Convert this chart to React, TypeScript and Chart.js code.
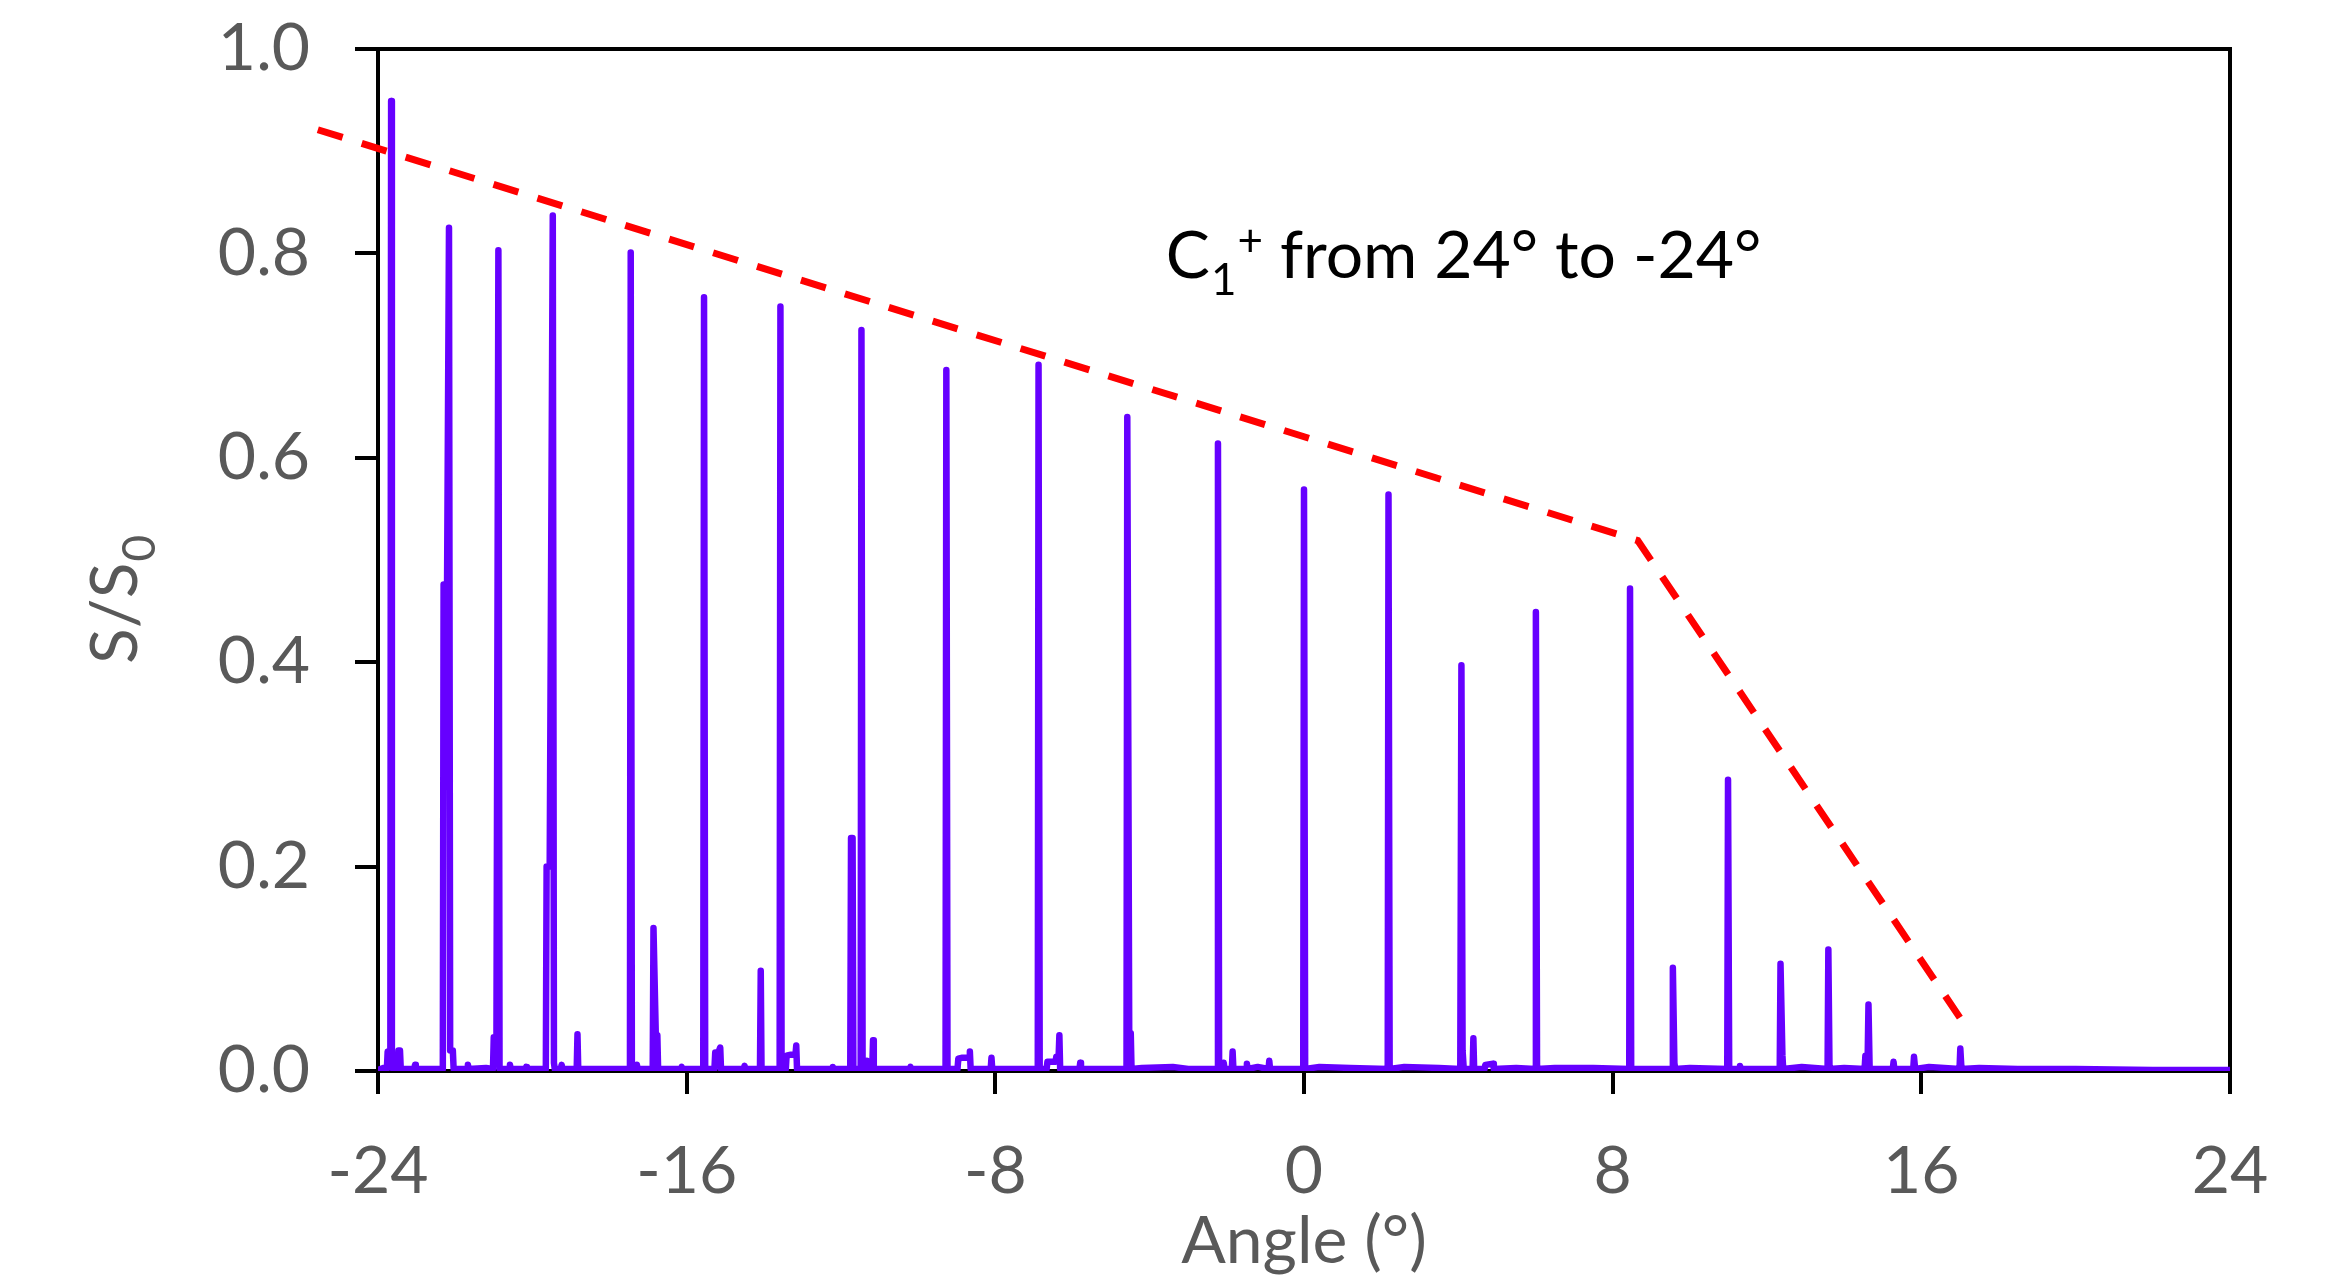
import { useEffect, useRef } from "react";
import { Chart, registerables } from "chart.js";

Chart.register(...registerables);

// Measured signal trace: [angle (°), S/S0]
const spectrum: [number, number][] = [
  [-24.0, 0.001], [-23.85, 0.003], [-23.8, 0.001],
  [-23.77, 0.002], [-23.75, 0.019], [-23.68, 0.02], [-23.66, 0.949], [-23.64, 0.003],
  [-23.49, 0.002], [-23.47, 0.02], [-23.43, 0.02], [-23.41, 0.002],
  [-23.2, 0.002], [-23.06, 0.002], [-23.04, 0.006], [-23.02, 0.002], [-22.6, 0.002],
  [-22.32, 0.002], [-22.3, 0.476], [-22.21, 0.476], [-22.16, 0.825], [-22.13, 0.02], [-22.06, 0.02], [-22.04, 0.002],
  [-21.85, 0.002], [-21.69, 0.002], [-21.67, 0.006], [-21.65, 0.002], [-21.2, 0.003],
  [-21.02, 0.002], [-21.0, 0.033], [-20.93, 0.033], [-20.88, 0.803], [-20.85, 0.002],
  [-20.6, 0.002], [-20.58, 0.006], [-20.56, 0.002], [-20.18, 0.002], [-20.16, 0.004], [-20.14, 0.002],
  [-19.65, 0.002], [-19.63, 0.2], [-19.55, 0.2], [-19.47, 0.837], [-19.44, 0.008], [-19.42, 0.002],
  [-19.26, 0.002], [-19.24, 0.006], [-19.22, 0.002],
  [-18.85, 0.002], [-18.83, 0.036], [-18.81, 0.002], [-18.2, 0.002],
  [-17.47, 0.002], [-17.45, 0.801], [-17.42, 0.002], [-17.31, 0.002], [-17.29, 0.006], [-17.27, 0.002],
  [-16.88, 0.002], [-16.86, 0.14], [-16.8, 0.035], [-16.76, 0.035], [-16.74, 0.002],
  [-16.15, 0.002], [-16.13, 0.004], [-16.11, 0.002],
  [-15.57, 0.002], [-15.55, 0.757], [-15.52, 0.002], [-15.28, 0.002], [-15.26, 0.018], [-15.18, 0.018],
  [-15.13, 0.023], [-15.11, 0.002],
  [-14.52, 0.002], [-14.5, 0.005], [-14.48, 0.002],
  [-14.1, 0.002], [-14.08, 0.098], [-14.06, 0.002],
  [-13.59, 0.002], [-13.57, 0.748], [-13.54, 0.002], [-13.43, 0.002], [-13.41, 0.015], [-13.3, 0.016],
  [-13.18, 0.016], [-13.16, 0.025], [-13.14, 0.002],
  [-12.23, 0.002], [-12.21, 0.004], [-12.19, 0.002],
  [-11.76, 0.002], [-11.74, 0.228], [-11.7, 0.228], [-11.68, 0.002],
  [-11.49, 0.002], [-11.47, 0.725], [-11.44, 0.002], [-11.35, 0.002], [-11.33, 0.01], [-11.31, 0.002],
  [-11.19, 0.002], [-11.17, 0.03], [-11.15, 0.002],
  [-10.5, 0.002], [-10.22, 0.002], [-10.2, 0.004], [-10.18, 0.002],
  [-9.29, 0.002], [-9.27, 0.686], [-9.24, 0.002], [-8.98, 0.002], [-8.96, 0.012], [-8.85, 0.013],
  [-8.68, 0.013], [-8.66, 0.019], [-8.64, 0.002],
  [-8.12, 0.002], [-8.1, 0.013], [-8.08, 0.002],
  [-6.9, 0.002], [-6.88, 0.691], [-6.85, 0.002], [-6.67, 0.002], [-6.65, 0.009], [-6.44, 0.009],
  [-6.42, 0.014], [-6.36, 0.014], [-6.34, 0.035], [-6.32, 0.002],
  [-5.82, 0.002], [-5.8, 0.008], [-5.78, 0.002],
  [-4.6, 0.002], [-4.58, 0.64], [-4.53, 0.037], [-4.49, 0.037], [-4.47, 0.002],
  [-4.2, 0.003], [-3.4, 0.004], [-3.0, 0.002],
  [-2.25, 0.002], [-2.23, 0.614], [-2.2, 0.002], [-2.1, 0.002], [-2.08, 0.008], [-2.06, 0.002],
  [-1.87, 0.002], [-1.85, 0.019], [-1.83, 0.002],
  [-1.5, 0.002], [-1.48, 0.007], [-1.46, 0.002], [-1.2, 0.004], [-0.92, 0.002], [-0.9, 0.01], [-0.88, 0.002],
  [-0.02, 0.002], [0.0, 0.569], [0.03, 0.002], [0.4, 0.004], [1.2, 0.003],
  [2.17, 0.002], [2.19, 0.564], [2.22, 0.002], [2.6, 0.004], [3.5, 0.003],
  [4.05, 0.002], [4.08, 0.397], [4.11, 0.02], [4.14, 0.002], [4.37, 0.002], [4.39, 0.032], [4.41, 0.002],
  [4.68, 0.002], [4.7, 0.006], [4.9, 0.007], [4.92, 0.002],
  [5.5, 0.003], [5.99, 0.002], [6.01, 0.449], [6.04, 0.002], [6.5, 0.003], [7.5, 0.003],
  [8.43, 0.002], [8.45, 0.472], [8.48, 0.002], [9.0, 0.002],
  [9.54, 0.002], [9.56, 0.101], [9.6, 0.008], [9.62, 0.002], [10.0, 0.003],
  [10.97, 0.002], [10.99, 0.285], [11.02, 0.002], [11.28, 0.002], [11.3, 0.005], [11.32, 0.002],
  [12.33, 0.002], [12.35, 0.105], [12.4, 0.015], [12.42, 0.002], [12.9, 0.004],
  [13.57, 0.002], [13.59, 0.119], [13.62, 0.002], [14.0, 0.003],
  [14.53, 0.002], [14.55, 0.015], [14.61, 0.015], [14.63, 0.065], [14.66, 0.002],
  [15.26, 0.002], [15.28, 0.009], [15.3, 0.002],
  [15.79, 0.002], [15.81, 0.014], [15.84, 0.002], [16.2, 0.004],
  [16.99, 0.002], [17.01, 0.022], [17.04, 0.002], [17.5, 0.003], [18.5, 0.002], [20.0, 0.002],
  [22.0, 0.001], [24.0, 0.001],
];

// Dashed guide line (envelope)
const envelopeAngles = [-25.56, 8.65, 17.2];
const envelopeValues = [0.921, 0.519, 0.041];

// Axis ticks
const xTickValues = [-24, -16, -8, 0, 8, 16, 24];
const yTickValues = [0, 0.2, 0.4, 0.6, 0.8, 1.0];

const FONT = "Lato";
const GREY = "#595959";

export default function App() {
  const ref = useRef<HTMLCanvasElement>(null);

  useEffect(() => {
    document.body.style.margin = "0";
    const canvas = ref.current;
    if (!canvas) return;

    const decor = {
      id: "decor",
      beforeDatasetsDraw(chart: any) {
        const { ctx, chartArea: a } = chart;
        ctx.save();
        ctx.strokeStyle = "#000";
        ctx.lineWidth = 4;
        ctx.lineCap = "square";
        ctx.beginPath();
        ctx.moveTo(a.left, a.top);
        ctx.lineTo(a.right, a.top);
        ctx.lineTo(a.right, a.bottom);
        ctx.stroke();
        ctx.restore();
      },
      afterDraw(chart: any) {
        const { ctx } = chart;
        const xs = chart.scales.x;
        const ys = chart.scales.y;
        // annotation "C1+ from 24° to -24°"
        ctx.save();
        ctx.fillStyle = "#000";
        ctx.textAlign = "left";
        ctx.textBaseline = "alphabetic";
        let x = xs.getPixelForValue(-3.58);
        const y = ys.getPixelForValue(0.776);
        ctx.font = `66px ${FONT}`;
        ctx.fillText("C", x, y);
        x += ctx.measureText("C").width + 1;
        ctx.font = `44px ${FONT}`;
        ctx.fillText("1", x, y + 17);
        x += ctx.measureText("1").width + 1;
        ctx.fillText("+", x, y - 22);
        x += ctx.measureText("+").width;
        ctx.font = `66px ${FONT}`;
        ctx.fillText(" from 24° to -24°", x, y);
        ctx.restore();

        // y axis title "S/S0"
        ctx.save();
        ctx.fillStyle = GREY;
        ctx.textAlign = "left";
        ctx.textBaseline = "alphabetic";
        ctx.translate(137, 664);
        ctx.rotate(-Math.PI / 2);
        ctx.font = `66px ${FONT}`;
        ctx.fillText("S/S", 0, 0);
        const w = ctx.measureText("S/S").width;
        ctx.font = `46px ${FONT}`;
        ctx.fillText("0", w + 1, 18);
        ctx.restore();
      },
    };

    const chart = new Chart(canvas, {
      type: "line",
      data: {
        datasets: [
          {
            data: envelopeAngles.map((a, i) => ({ x: a, y: envelopeValues[i] })),
            borderColor: "#ff0000",
            borderWidth: 7,
            borderDash: [26, 20],
            borderCapStyle: "butt",
            pointRadius: 0,
            fill: false,
            tension: 0,
            clip: false as any,
          },
          {
            data: spectrum.map(([a, v]) => ({ x: a, y: v })),
            borderColor: "rgb(102,0,255)",
            borderWidth: 6.5,
            borderJoinStyle: "round",
            borderCapStyle: "round",
            pointRadius: 0,
            fill: false,
            tension: 0,
          },
        ],
      },
      plugins: [decor],
      options: {
        animation: false,
        responsive: false,
        devicePixelRatio: 1,
        layout: { padding: { left: 0, top: 49, right: 98, bottom: 0 } },
        plugins: { legend: { display: false }, tooltip: { enabled: false } },
        scales: {
          x: {
            type: "linear",
            min: -24,
            max: 24,
            afterFit: (s: any) => {
              s.height = 206;
            },
            afterBuildTicks: (s: any) => {
              s.ticks = xTickValues.map((v) => ({ value: v }));
            },
            ticks: {
              stepSize: 8,
              autoSkip: false,
              maxRotation: 0,
              color: GREY,
              padding: 38,
              font: { family: FONT, size: 66 },
              callback: (v: any) => String(v),
            },
            grid: {
              drawOnChartArea: false,
              drawTicks: true,
              tickLength: 23,
              tickWidth: 4,
              lineWidth: 4,
              tickColor: "#000",
              color: "#000",
            },
            border: { display: true, color: "#000", width: 4 },
            title: {
              display: true,
              text: "Angle (°)",
              color: GREY,
              font: { family: FONT, size: 66, lineHeight: 1.0 },
              padding: { top: 0, bottom: 2 },
            },
          },
          y: {
            type: "linear",
            min: 0,
            max: 1,
            afterFit: (s: any) => {
              s.width = 378;
              s.paddingTop = 0;
              s.paddingBottom = 0;
            },
            afterBuildTicks: (s: any) => {
              s.ticks = yTickValues.map((v) => ({ value: v }));
            },
            ticks: {
              stepSize: 0.2,
              color: GREY,
              padding: 45,
              font: { family: FONT, size: 66 },
              callback: (v: any) => Number(v).toFixed(1),
            },
            grid: {
              drawOnChartArea: false,
              drawTicks: true,
              tickLength: 23,
              tickWidth: 4,
              lineWidth: 4,
              tickColor: "#000",
              color: "#000",
            },
            border: { display: true, color: "#000", width: 4 },
          },
        },
      },
    } as any);

    return () => chart.destroy();
  }, []);

  return (
    <div style={{ width: 2328, height: 1277, background: "#fff" }}>
      <canvas ref={ref} width={2328} height={1277} style={{ display: "block" }} />
    </div>
  );
}
